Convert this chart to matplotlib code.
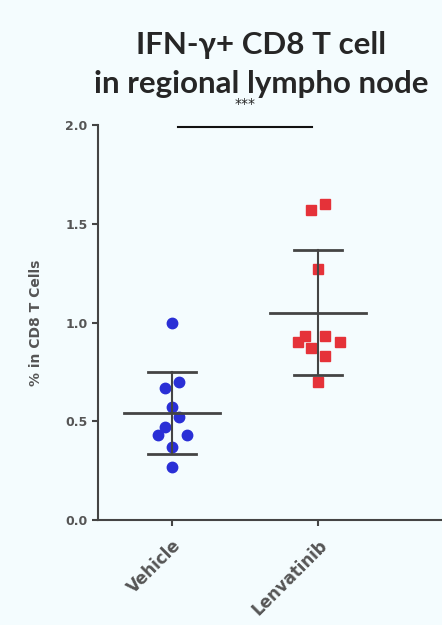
import numpy as np
import matplotlib.pyplot as plt

# Datos
groups = ["Vehicle", "Lenvatinib"]
vehicle = [1.00, 0.70, 0.67, 0.57, 0.52, 0.47, 0.43, 0.43, 0.37, 0.27]
vehicle_x = [0.0, 0.05, -0.05, 0.0, 0.05, -0.05, -0.1, 0.1, 0.0, 0.0]
lenva = [1.57, 1.60, 1.27, 0.93, 0.90, 0.93, 0.90, 0.87, 0.83, 0.70]
lenva_x = [-0.05, 0.05, 0.0, -0.09, -0.14, 0.05, 0.15, -0.05, 0.05, 0.0]
yticks = [0.0, 0.5, 1.0, 1.5, 2.0]

bg = "#f4fcfe"
gray = "#444444"

fig = plt.figure(figsize=(4.42, 6.25), dpi=100, facecolor=bg)
ax = fig.add_axes([0.222, 0.168, 0.778, 0.632], facecolor=bg)

ax.plot(np.array(vehicle_x) + 0, vehicle, 'o', color="#2a2fd6", markersize=7.5, zorder=3)
ax.plot(np.array(lenva_x) + 1, lenva, 's', color="#e53239", markersize=7.5, zorder=3)

# media +- SD
for i, vals in enumerate([vehicle, lenva]):
    m = np.mean(vals)
    sd = np.std(vals, ddof=1)
    ax.plot([i - 0.33, i + 0.33], [m, m], color=gray, lw=2, zorder=4)
    ax.plot([i, i], [m - sd, m + sd], color=gray, lw=1.5, zorder=4)
    for y in (m - sd, m + sd):
        ax.plot([i - 0.165, i + 0.165], [y, y], color=gray, lw=2, zorder=4)

# significancia
ax.plot([0.04, 0.96], [1.99, 1.99], color="#111111", lw=1.5, clip_on=False)
ax.text(0.5, 2.07, "***", ha="center", va="bottom", fontsize=10, color="#222222", clip_on=False)

ax.set_xlim(-0.507, 1.849)
ax.set_ylim(0, 2.0)
ax.set_yticks(yticks)
ax.set_yticklabels([f"{v:.1f}" for v in yticks], fontsize=9, fontweight="bold", color="#555555")
ax.set_xticks([0, 1])
ax.set_xticklabels(groups, rotation=45, ha="right", rotation_mode="anchor",
                   fontsize=12, fontweight="bold", color="#555555")
ax.tick_params(axis="x", pad=8)
ax.tick_params(axis="both", color=gray, width=1.5, length=4)
for s in ["top", "right"]:
    ax.spines[s].set_visible(False)
for s in ["left", "bottom"]:
    ax.spines[s].set_color(gray)
    ax.spines[s].set_linewidth(1.5)

ax.set_ylabel("% in CD8 T Cells", fontsize=10, fontweight="bold", color="#555555", labelpad=16)

fig.text(0.59, 0.928, "IFN-γ+ CD8 T cell", ha="center", va="center",
         fontsize=22.5, fontweight="bold", color="#262626", family="Lato")
fig.text(0.59, 0.866, "in regional lympho node", ha="center", va="center",
         fontsize=22.5, fontweight="bold", color="#262626", family="Lato")

fig.savefig("out.png", facecolor=bg)
